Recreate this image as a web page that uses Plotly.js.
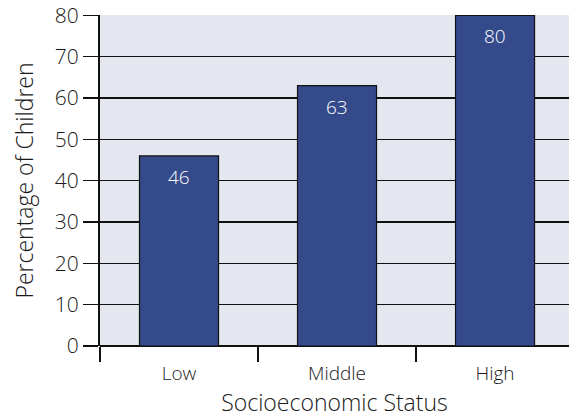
<!DOCTYPE html>
<html>
<head>
<meta charset="utf-8">
<script src="https://cdn.plot.ly/plotly-3.0.1.min.js"></script>
<style>html,body{margin:0;padding:0;background:#fff;}#chart{width:569px;height:420px;}</style>
</head>
<body>
<div id="chart"></div>
<script>
var categories = ["Low", "Middle", "High"];
var values = [46, 63, 80];
var yTicks = [0, 10, 20, 30, 40, 50, 60, 70, 80];

var FONT = "Open Sans, Noto Sans, sans-serif";
var W = 350;

var trace = {
  type: "bar",
  x: categories,
  y: values,
  width: 0.5,
  marker: {color: "#344a8b", line: {color: "#111", width: 1.2}},
  hoverinfo: "none"
};

var annotations = categories.map(function (c, i) {
  return {
    x: c, y: values[i], xref: "x", yref: "y",
    text: String(values[i]), showarrow: false,
    yanchor: "top", yshift: -6,
    font: {family: FONT, size: 19, weight: W, color: "#ffffff"}
  };
});

var layout = {
  width: 569, height: 420,
  margin: {l: 100, r: 0, t: 15, b: 74},
  paper_bgcolor: "#ffffff",
  plot_bgcolor: "#e4e6f0",
  showlegend: false,
  font: {family: FONT, size: 21, weight: W, color: "#1a1a1a"},
  xaxis: {
    type: "category",
    range: [-0.5, 2.468],
    tickson: "boundaries",
    ticks: "outside", ticklen: 15, tickwidth: 1.5, tickcolor: "#111",
    ticklabelstandoff: 14,
    showgrid: false, zeroline: false,
    showline: false,
    tickfont: {family: FONT, size: 19, weight: W, color: "#1a1a1a"},
    title: {text: "Socioeconomic Status", font: {family: FONT, size: 23, weight: W, color: "#1a1a1a"}, standoff: 1}
  },
  yaxis: {
    range: [0, 80.1],
    tickmode: "array", tickvals: yTicks,
    ticks: "outside", ticklen: 15, tickwidth: 1.5, tickcolor: "#111",
    showgrid: true, gridcolor: "#111", gridwidth: 1.2,
    zeroline: true, zerolinecolor: "#111", zerolinewidth: 2.5,
    showline: true, linecolor: "#111", linewidth: 2,
    tickfont: {family: FONT, size: 21, weight: W, color: "#1a1a1a"},
    title: {text: "Percentage of Children", font: {family: FONT, size: 23, weight: W, color: "#1a1a1a"}, standoff: 15}
  },
  annotations: annotations
};

Plotly.newPlot("chart", [trace], layout, {displayModeBar: false, staticPlot: true});
</script>
</body>
</html>
